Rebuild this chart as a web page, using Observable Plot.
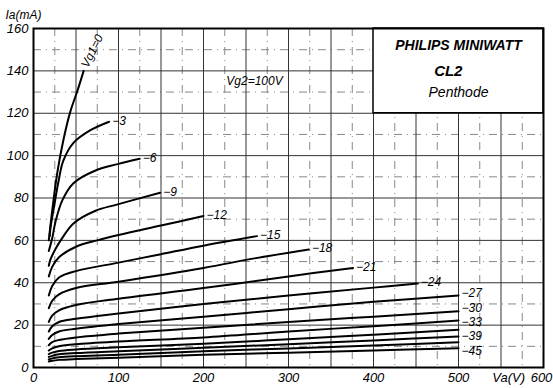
<!DOCTYPE html>
<html><head><meta charset="utf-8">
<script src="https://cdn.jsdelivr.net/npm/d3@7"></script>
<script src="https://cdn.jsdelivr.net/npm/@observablehq/plot@0.6"></script>
<style>
html,body{margin:0;padding:0;background:#fff;}
</style>
</head><body><div id="chart"></div>
<script>
// Grid-1 voltages (V) of the family of curves
const gridVoltages = [0, -3, -6, -9, -12, -15, -18, -21, -24, -27, -30, -33, -36, -39, -42, -45];
const curveLabels  = ["Vg1=0", "−3", "−6", "−9", "−12", "−15", "−18", "−21", "−24", "−27", "−30", "−33", "", "−39", "", "−45"];

// [Va (V), Ia (mA)]
const c0  = [[18,60],[22,74],[28,92],[35.5,108],[43.5,121],[52,131],[59,140]];
const c3  = [[19,62],[20,66],[24,75.5],[29.5,88],[35,97.5],[47,106],[67,112],[89,116]];
const c6  = [[18,55],[22,61],[26,69],[34,79],[47,87],[73,93],[99,96],[125,98.5]];
const c9  = [[18,48],[20,51],[26,56],[32,60],[47,68],[73,74],[99,77],[149,82.5]];
const c12 = [[18,43],[22,47.5],[30,52],[50,57],[75,60],[100,62.5],[150,67],[200,71.5]];
const c15 = [[18,34],[22,38.5],[30,42.5],[50,45.5],[100,49.5],[150,53.5],[200,57.5],[263,62]];
const c18 = [[18,28],[22,31.5],[30,34.5],[50,37.5],[100,40.5],[200,47],[260,51.5],[324,55.7]];
const c21 = [[18,21.5],[22,24.5],[30,27],[50,29.5],[100,32.5],[200,37.5],[300,43],[376,47]];
const c24 = [[18,17],[22,19.5],[30,21.5],[50,23],[100,25.5],[200,30],[300,34],[400,37.7],[452,39.6]];
const c27 = [[18,13.5],[22,15.3],[30,17],[50,18.3],[100,20.5],[200,24],[300,27.5],[400,31],[500,34]];
const c30 = [[18,10.5],[22,12],[30,13],[50,14.2],[100,16],[200,18.8],[300,21.5],[400,24],[500,26.5]];
const c33 = [[18,8],[22,9],[30,10],[50,11],[100,12.3],[200,14.2],[300,17],[400,19.5],[500,22.2]];
const c36 = [[18,6.3],[22,7],[30,7.8],[50,8.5],[100,9.5],[200,11.2],[300,13.3],[400,15.5],[500,17.8]];
const c39 = [[18,5],[22,5.5],[30,6.2],[50,6.8],[100,7.7],[200,9.3],[300,11],[400,12.8],[500,14.6]];
const c42 = [[18,3.8],[22,4.3],[30,4.8],[50,5.3],[100,6],[200,7.7],[300,9],[400,10.4],[500,11.9]];
const c45 = [[18,2.8],[22,3.2],[30,3.6],[50,4],[100,4.6],[200,6],[300,7],[400,8],[500,9.1]];
const curves = [c0, c3, c6, c9, c12, c15, c18, c21, c24, c27, c30, c33, c36, c39, c42, c45];

const xTicks = [0, 100, 200, 300, 400, 500];
const xLastTick = [600];
const yTicks = [0, 20, 40, 60, 80, 100, 120, 140, 160];
const majorX = [50, 100, 150, 200, 250, 300, 350, 400, 450, 500, 550];
const minorX = [25, 75, 125, 175, 225, 275, 325, 375, 425, 475, 525, 575];
const majorY = [20, 40, 60, 80, 100, 120, 140];
const minorY = [10, 30, 50, 70, 90, 110, 130, 150];
const titleLines = ["PHILIPS MINIWATT", "CL2", "Penthode"];
const screenGridText = "Vg2=100V";
const xLabel = "Va(V)";
const yLabel = "Ia(mA)";

const rows = curves.flatMap((pts, i) => pts.map(([va, ia]) => ({vg: gridVoltages[i], va, ia})));
const ends = curves.map((pts, i) => ({vg: gridVoltages[i], va: pts[pts.length-1][0], ia: pts[pts.length-1][1], label: curveLabels[i]}));

const FONT = "'Liberation Sans', Arial, sans-serif";
const labelMark = (keep, dy) => Plot.text(ends.filter(d => d.label && keep(d.vg)),
  {x: "va", y: "ia", text: "label", textAnchor: "start", dx: 3, dy, fontSize: 12});

const chart = Plot.plot({
  width: 553, height: 388,
  marginLeft: 33, marginRight: 10, marginTop: 28, marginBottom: 21,
  x: {domain: [0, 600]},
  y: {domain: [0, 160]},
  style: {fontFamily: FONT, fontStyle: "italic", fontSize: "13px", background: "white", color: "black"},
  marks: [
    Plot.ruleX(minorX, {stroke: "#888", strokeWidth: 1, strokeDasharray: "8,5,1,5"}),
    Plot.ruleY(minorY, {stroke: "#888", strokeWidth: 1, strokeDasharray: "8,5,1,5"}),
    Plot.ruleX(majorX, {stroke: "#333", strokeWidth: 1}),
    Plot.ruleY(majorY, {stroke: "#333", strokeWidth: 1}),
    Plot.rect([0], {x1: 400, x2: 600, y1: 120, y2: 160, fill: "white", stroke: "black", strokeWidth: 1.5}),
    Plot.text([titleLines[0]], {x: 500, y: 152, text: d => d, fontWeight: "bold", fontSize: 14, letterSpacing: 0.5}),
    Plot.text([titleLines[1]], {x: 488, y: 140, text: d => d, fontWeight: "bold", fontSize: 15}),
    Plot.text([titleLines[2]], {x: 500, y: 130, text: d => d, fontSize: 14, letterSpacing: 0.5}),
    Plot.text([screenGridText], {x: 260, y: 135, text: d => d, fontSize: 12}),
    Plot.line(rows, {x: "va", y: "ia", z: "vg", stroke: "black", strokeWidth: 2, curve: "catmull-rom"}),
    labelMark(v => v < 0 && v > -27, -1),
    labelMark(v => v === -27, -2),
    labelMark(v => v === -30, -3),
    labelMark(v => v === -33, 2),
    labelMark(v => v === -39, 0),
    labelMark(v => v === -45, 2.5),
    Plot.text(ends.filter(d => d.vg === 0), {x: "va", y: "ia", text: "label", textAnchor: "start", rotate: -64, dx: 1, dy: -4, fontSize: 12}),
    Plot.axisX({ticks: xTicks, tickSize: 0, tickPadding: 5, label: null}),
    Plot.text(xLastTick, {x: d => d, frameAnchor: "bottom", text: d => String(d), lineAnchor: "top", dy: 5, dx: -2}),
    Plot.axisY({ticks: yTicks, tickSize: 0, tickPadding: 5, label: null}),
    Plot.text([xLabel], {x: 559, frameAnchor: "bottom", text: d => d, lineAnchor: "top", dy: 5}),
    Plot.text([yLabel], {frameAnchor: "top-left", text: d => d, textAnchor: "start", dx: -28, dy: -18, fontSize: 12}),
    Plot.frame({stroke: "black", strokeWidth: 2})
  ]
});
document.getElementById("chart").appendChild(chart);
</script>
</body></html>
